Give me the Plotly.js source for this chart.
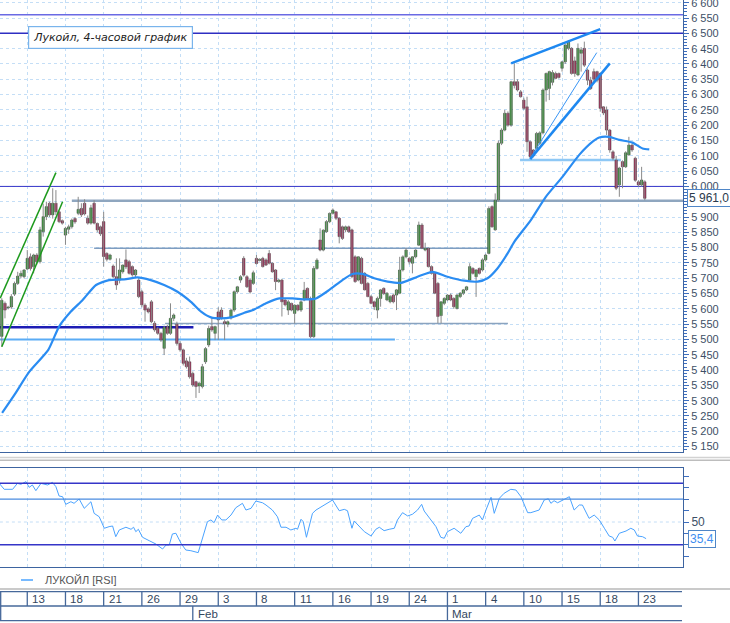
<!DOCTYPE html>
<html><head><meta charset="utf-8">
<script src="https://cdn.plot.ly/plotly-3.0.1.min.js"></script>
<style>html,body{margin:0;padding:0;background:#fff}#chart{width:730px;height:623px}</style>
</head><body><div id="chart"></div>
<script>
// ---- DATA (4-hour candles, bar index 0..202) ----
const open = [5510,5618,5603,5606,5648,5683,5707,5705,5730,5770,5738,5776,5754,5852,5901,5945,5907,5945,5917,5888,
5841,5860,5868,5895,5912,5928,5945,5896,5880,5945,5879,5868,5885,5781,5762,5740,5705,5694,5721,5760,
5754,5738,5711,5694,5656,5612,5600,5623,5553,5536,5520,5471,5542,5520,5569,5550,5487,5466,5430,5427,
5389,5362,5348,5346,5427,5482,5542,5520,5590,5596,5558,5550,5570,5596,5656,5694,5765,5705,5694,5683,
5765,5758,5765,5760,5781,5749,5727,5689,5694,5629,5596,5618,5585,5612,5596,5629,5667,5634,5509,5732,
5825,5792,5852,5885,5912,5917,5896,5868,5858,5868,5858,5770,5694,5765,5716,5683,5640,5623,5596,5634,
5667,5629,5623,5645,5645,5651,5727,5770,5765,5749,5770,5808,5874,5792,5798,5738,5716,5683,5578,5618,
5629,5645,5634,5601,5640,5651,5662,5694,5732,5705,5732,5727,5760,5781,5934,5858,5956,6141,6184,6239,
6200,6342,6342,6309,6282,6260,6146,6119,6124,6141,6175,6315,6320,6340,6369,6369,6386,6407,6451,6451,
6410,6364,6435,6451,6380,6347,6375,6375,6369,6260,6250,6184,6113,6086,6005,6081,6064,6103,6135,6092,
6015,6005,6015];
const high = [5635,5624,5610,5648,5689,5721,5725,5730,5792,5781,5780,5782,5868,5944,5950,5950,5994,5988,5920,5892,
5868,5875,5895,5900,5966,5945,5958,5905,5940,5955,5882,5872,5917,5785,5780,5745,5765,5765,5745,5794,
5760,5742,5730,5700,5662,5618,5605,5629,5560,5540,5525,5545,5548,5618,5585,5558,5495,5470,5440,5444,
5395,5365,5362,5420,5475,5545,5570,5545,5605,5605,5565,5562,5600,5660,5675,5710,5772,5710,5700,5725,
5776,5765,5770,5765,5792,5752,5730,5698,5698,5632,5629,5620,5615,5615,5628,5688,5670,5640,5740,5765,
5863,5860,5890,5915,5928,5920,5900,5872,5872,5872,5862,5775,5772,5770,5720,5688,5645,5627,5640,5665,
5670,5655,5645,5650,5665,5770,5775,5798,5770,5772,5795,5885,5880,5816,5800,5742,5720,5688,5625,5638,
5648,5650,5638,5648,5655,5665,5675,5749,5736,5730,5735,5765,5780,5935,5938,5977,6150,6190,6250,6245,
6345,6402,6350,6315,6290,6293,6150,6122,6178,6180,6320,6372,6378,6380,6375,6372,6410,6465,6478,6455,
6424,6467,6455,6473,6385,6358,6385,6378,6372,6262,6261,6188,6118,6100,6064,6085,6115,6162,6140,6097,
6020,6064,6020];
const low = [5476,5569,5598,5600,5642,5678,5700,5700,5727,5725,5716,5745,5748,5836,5890,5900,5895,5906,5880,5875,
5809,5845,5862,5878,5906,5900,5905,5875,5875,5876,5850,5838,5738,5755,5758,5700,5662,5683,5715,5730,
5712,5705,5700,5635,5605,5558,5585,5553,5525,5515,5492,5449,5515,5515,5560,5480,5460,5415,5405,5372,
5345,5309,5325,5340,5420,5475,5525,5498,5498,5565,5498,5540,5565,5590,5650,5685,5705,5668,5650,5678,
5745,5755,5735,5740,5745,5718,5661,5685,5575,5608,5580,5592,5552,5592,5590,5625,5630,5504,5505,5728,
5788,5788,5848,5880,5908,5890,5814,5825,5850,5848,5700,5685,5690,5680,5660,5638,5615,5596,5569,5607,
5645,5625,5618,5618,5596,5648,5722,5765,5745,5716,5765,5805,5795,5788,5735,5712,5648,5553,5553,5612,
5625,5625,5600,5598,5635,5645,5658,5690,5712,5639,5712,5722,5755,5778,5865,5855,5950,6135,6180,6195,
6195,6320,6310,6290,6250,6113,6092,6095,6120,6135,6170,6277,6282,6330,6350,6352,6375,6400,6445,6365,
6358,6360,6375,6390,6331,6315,6337,6340,6244,6233,6168,6110,6085,5988,5966,5994,6060,6100,6113,6015,
5999,5999,5955];
const close = [5628,5596,5606,5640,5683,5707,5716,5727,5765,5732,5776,5754,5858,5901,5934,5907,5945,5917,5885,5880,
5863,5868,5890,5884,5925,5907,5910,5880,5930,5880,5858,5845,5771,5762,5776,5705,5678,5727,5743,5737,
5716,5711,5727,5640,5613,5596,5590,5558,5531,5520,5498,5540,5520,5569,5580,5487,5466,5422,5411,5378,
5351,5346,5357,5411,5470,5536,5531,5542,5564,5570,5552,5558,5596,5656,5672,5705,5710,5672,5655,5718,
5748,5762,5738,5743,5749,5721,5689,5694,5623,5613,5623,5596,5612,5596,5623,5661,5634,5509,5732,5759,
5792,5857,5885,5912,5923,5896,5836,5830,5868,5852,5705,5689,5770,5683,5662,5640,5618,5607,5634,5662,
5650,5651,5640,5623,5662,5727,5770,5792,5754,5770,5792,5874,5798,5798,5738,5716,5651,5575,5623,5634,
5645,5629,5607,5645,5651,5662,5672,5738,5716,5727,5716,5760,5776,5928,5868,5955,6141,6184,6239,6200,
6342,6330,6315,6293,6255,6146,6097,6100,6173,6175,6315,6369,6375,6372,6353,6356,6407,6462,6473,6369,
6369,6451,6446,6396,6347,6320,6350,6347,6255,6240,6184,6119,6092,5994,6060,6064,6110,6135,6119,6020,
6005,6021,5961];

// moving average
const maBars = [0.1,3.9,8.6,14.6,18,21.7,25.4,29.6,33.7,38.5,42.6,46.8,51,55.2,59.4,62.6,65.7,68.8,72,76.2,79.3,83,87.2,91.3,95.5,98.7,102.9,107,110.2,113.3,117,121.2,125.4,130.6,135.3,140,145.3,149.5,152.6,155.7,158.9,161,166.2,170.9,176.2,181.4,185.6,187.7,190.8,194,198.1,201.3,203.4];
const maValues = [5260,5318,5394,5466,5542,5591,5629,5678,5694,5696,5703,5694,5678,5656,5623,5591,5572,5569,5572,5587,5598,5618,5634,5634,5631,5634,5662,5694,5714,5714,5700,5689,5685,5705,5721,5705,5692,5689,5700,5732,5781,5819,5890,5966,6032,6103,6146,6160,6162,6152,6143,6124,6121];

// RSI
const rsiBars = [-0.8,0.75,3.4,4.9,6,7.6,8.6,9.6,10.7,12.3,14.4,15.9,17,18,19.1,20.1,21.7,22.7,24.3,25.9,28,29,30.6,32.2,33.7,34.8,35.8,36.9,39,40.6,41.4,42.1,42.9,44.2,46.3,48.4,50.5,51.6,52.6,53.6,54.7,56.3,57.8,59.4,61.7,63.1,64.6,65.7,66.7,67.8,69.1,70.4,72,73.5,75.6,76.7,78.3,79.8,81.9,83,85,86.6,87.7,89.3,90.8,92.4,92.9,94,94.7,95.7,97.6,98.7,101.3,103.9,106,107.6,108.6,110,110.7,112.3,113.9,116,117.5,118.6,120.1,121.7,123.3,124.3,125.9,127.5,129,130.6,131.9,132.7,134.3,136.4,137.9,139,140,142.1,144.2,145.8,146.8,147.9,150,151,152.1,153.7,154.7,156.3,157.8,159.9,161.5,163.1,165.2,166.2,168.8,170.4,171.7,172.5,173.5,174.6,176.7,178.3,179.8,181.4,182.4,184.5,186.1,187.7,189.3,190.8,191.9,192.6,194,196.1,197.6,198.7,199.7,201.3,202.4];
const rsiValues = [83.9,78.7,78.7,83.9,83.1,85.4,80.4,82.5,77.5,83.9,82.5,84.8,81.0,72.8,72.2,65.5,67.8,66.4,70.2,62.0,67.8,57.6,54.6,44.5,45.9,46.5,37.1,43.0,45.4,43.6,45.4,41.5,43.6,36.6,33.6,30.7,26.3,29.8,29.8,39.5,40.1,31.3,25.4,24.8,23.1,37.1,50.3,51.8,49.4,56.1,51.8,51.8,56.1,62.5,66.4,60.5,62.0,68.4,66.9,64.9,60.5,54.6,45.4,45.4,43.0,44.5,43.6,52.4,50.3,36.6,57.6,60.5,64.9,69.3,59.9,61.1,59.9,44.5,50.9,45.9,41.5,37.7,43.6,45.4,42.4,43.6,44.5,51.8,58.2,55.3,56.8,60.5,65.5,59.6,53.2,45.9,36.6,35.7,41.5,44.5,40.1,45.9,46.5,53.2,56.1,51.8,60.5,71.7,57.6,70.8,75.2,78.7,78.1,72.2,58.2,58.2,60.5,69.3,70.4,66.4,68.7,66.9,69.9,72.2,60.5,64.9,64.9,53.2,56.1,51.8,44.5,37.7,36.6,33.3,40.1,42.1,44.5,43.0,37.7,37.1,35.4];
const rsiLevels = [84, 70, 30];
const rsiTickVals = [20,30,40,50,60,70,80,90];
const rsiTickText = ['','','','50','','','',''];

// price axis ticks (the 5 950 label is covered by the last-price box in the reference)
const priceTickVals = [5150,5200,5250,5300,5350,5400,5450,5500,5550,5600,5650,5700,5750,5800,5850,5900,5950,6000,6050,6100,6150,6200,6250,6300,6350,6400,6450,6500,6550,6600];
const priceTickText = ['5 150','5 200','5 250','5 300','5 350','5 400','5 450','5 500','5 550','5 600','5 650','5 700','5 750','5 800','5 850','5 900','','6 000','6 050','6 100','6 150','6 200','6 250','6 300','6 350','6 400','6 450','6 500','6 550','6 600'];

// date axis
const tickBars = [8,20,32,44,56,68,80,92,104,116,128,140,152,164,176,188,200];
const dayLabels = ['13','18','21','26','29','3','8','11','16','19','24','1','4','10','15','18','23'];
const monthBars = [60,140];
const monthLabels = ['Feb','Mar'];

// horizontal levels on price chart
const levelValues = [6561, 6500, 6000, 5953, 5798, 5552, 5540, 5500, 6086];
const levelFrom   = [-0.6, -0.6, -0.6, 22, 29, 51.3, -0.6, -0.6, 162.8];
const levelTo     = [214, 214, 214, 214, 153.4, 159, 60.2, 123.5, 194.5];

// trend lines (endpoints)
const greenUpperX = [-0.5, 17.0], greenUpperY = [5635, 6045];
const greenLowerX = [0, 19.1],   greenLowerY = [5476, 5950];
const blueTopX = [160, 188],     blueTopY = [6402, 6514];
const blueThinX = [166, 186.9],  blueThinY = [6092, 6437];
const blueLowX = [166, 191],     blueLowY = [6089, 6402];

const titleText = 'Лукойл, 4-часовой график';
const legendText = 'ЛУКОЙЛ [RSI]';

// ---- BUILD ----
const H = 623, PW = 683;
const py = p => (H - p) / H;
const bars = close.map((_, i) => i);
const wx = [], wy = [];
bars.forEach(i => { wx.push(i, i, null); wy.push(low[i], high[i], null); });
const bodyH = bars.map(i => Math.max(Math.abs(close[i] - open[i]), 3));
const bodyB = bars.map(i => Math.min(open[i], close[i]));
const bodyC = bars.map(i => close[i] >= open[i] ? '#1fa31f' : '#b3134d');

const levelStyles = [
  {color:'#6a6ae4', width:1.5}, {color:'#2e2ec2', width:1.5}, {color:'#3434c8', width:1},
  {color:'#8fa6bf', width:2.5}, {color:'#7f9dc0', width:1.5}, {color:'#8aa3bf', width:1.5},
  {color:'#1d1db5', width:2.5}, {color:'#5aacf5', width:2}, {color:'#8ec8f5', width:2.5}
];
const shapes = [];
levelValues.forEach((v, k) => shapes.push({type:'line', xref:'x', yref:'y', x0:levelFrom[k], x1:levelTo[k], y0:v, y1:v, line:levelStyles[k], layer:'between'}));
const rsiStyles = [{color:'#3535c8', width:1.5}, {color:'#4a8be0', width:1.2}, {color:'#3535c8', width:1.5}];
rsiLevels.forEach((v, k) => shapes.push({type:'line', xref:'x2', yref:'y2', x0:-0.6, x1:214, y0:v, y1:v, line:rsiStyles[k]}));
shapes.push({type:'line', xref:'x2', yref:'y2', x0:-0.6, x1:214, y0:50, y1:50, line:{color:'#c4def6', width:1, dash:'dot'}, layer:'below'});
// separators
shapes.push({type:'line', xref:'paper', yref:'paper', x0:0, x1:730/PW, y0:py(457.5), y1:py(457.5), line:{color:'#d2d2d2', width:1.5}});
shapes.push({type:'line', xref:'paper', yref:'paper', x0:0, x1:730/PW, y0:py(460.3), y1:py(460.3), line:{color:'#bdbdbd', width:1.5}});
shapes.push({type:'line', xref:'paper', yref:'paper', x0:0, x1:730/PW, y0:py(589), y1:py(589), line:{color:'#cacaca', width:2}});
// date panel
const dpc = {color:'#46689a', width:1.3};
[591.7, 606, 620.7].forEach(p => shapes.push({type:'line', xref:'paper', yref:'paper', x0:0, x1:682/PW, y0:py(p), y1:py(p), line:dpc}));
shapes.push({type:'line', xref:'paper', yref:'paper', x0:0.001, x1:0.001, y0:py(591.7), y1:py(620.7), line:dpc});
tickBars.forEach(b => shapes.push({type:'line', xref:'x', yref:'paper', x0:b, x1:b, y0:py(591.7), y1:py(606), line:dpc}));
monthBars.forEach(b => shapes.push({type:'line', xref:'x', yref:'paper', x0:b, x1:b, y0:py(606), y1:py(620.7), line:dpc}));
// legend sample
shapes.push({type:'line', xref:'paper', yref:'paper', x0:21/PW, x1:33/PW, y0:py(580), y1:py(580), line:{color:'#4aa3ff', width:1.5}});

const fmtNum = (v, d) => { const s = v.toFixed(d).split('.'); const ip = s[0].replace(/\B(?=(\d{3})+(?!\d))/g, ' '); return d ? ip + ',' + s[1] : ip; };
const lastClose = close[close.length - 1];
const lastRsi = rsiValues[rsiValues.length - 1];

const annotations = [];
annotations.push({xref:'paper', yref:'paper', x:28/PW, y:py(38), xanchor:'left', yanchor:'middle', text:'<i>' + titleText + '</i>', showarrow:false,
  font:{family:'DejaVu Sans', size:11, color:'#222'}, bgcolor:'#ffffff', bordercolor:'#79b4ec', borderwidth:1.2, borderpad:4});
annotations.push({xref:'paper', yref:'y', x:686.5/PW, y:lastClose, xanchor:'left', yanchor:'middle', text:fmtNum(lastClose,1), showarrow:false,
  font:{family:'Liberation Sans', size:12, color:'#2b3a4c'}, bgcolor:'#ffffff', bordercolor:'#4f86c7', borderwidth:1, borderpad:1});
annotations.push({xref:'paper', yref:'y2', x:687.5/PW, y:lastRsi, xanchor:'left', yanchor:'middle', text:fmtNum(lastRsi,1), showarrow:false,
  font:{family:'Liberation Sans', size:12, color:'#3d8ef0'}, bgcolor:'#ffffff', bordercolor:'#4f86c7', borderwidth:1, borderpad:1});
annotations.push({xref:'paper', yref:'paper', x:43/PW, y:py(580), xanchor:'left', yanchor:'middle', text:legendText, showarrow:false,
  font:{family:'Liberation Sans', size:11, color:'#555'}});
tickBars.forEach((b, k) => annotations.push({xref:'x', yref:'paper', x:b, y:py(599), xanchor:'left', yanchor:'middle', xshift:3, text:dayLabels[k], showarrow:false,
  font:{family:'Liberation Sans', size:11.5, color:'#34475e'}}));
monthBars.forEach((b, k) => annotations.push({xref:'x', yref:'paper', x:b, y:py(613.5), xanchor:'left', yanchor:'middle', xshift:3, text:monthLabels[k], showarrow:false,
  font:{family:'Liberation Sans', size:11.5, color:'#34475e'}}));

const traces = [
  {type:'scatter', mode:'lines', x:wx, y:wy, line:{color:'#8a8a8a', width:1}, xaxis:'x', yaxis:'y', hoverinfo:'skip'},
  {type:'bar', x:bars, y:bodyH, base:bodyB, width:0.76, marker:{color:bodyC, line:{color:'#333333', width:0.5}}, xaxis:'x', yaxis:'y', hoverinfo:'skip'},
  {type:'scatter', mode:'lines', x:maBars, y:maValues, line:{color:'#2a8cf2', width:2.2, shape:'spline', smoothing:0.6}, xaxis:'x', yaxis:'y'},
  {type:'scatter', mode:'lines', x:greenUpperX, y:greenUpperY, line:{color:'#1d9a1d', width:1.5}, xaxis:'x', yaxis:'y'},
  {type:'scatter', mode:'lines', x:greenLowerX, y:greenLowerY, line:{color:'#1d9a1d', width:1.5}, xaxis:'x', yaxis:'y'},
  {type:'scatter', mode:'lines', x:blueTopX, y:blueTopY, line:{color:'#1e88f0', width:2.5}, xaxis:'x', yaxis:'y'},
  {type:'scatter', mode:'lines', x:blueThinX, y:blueThinY, line:{color:'#3a96f5', width:1}, xaxis:'x', yaxis:'y'},
  {type:'scatter', mode:'lines', x:blueLowX, y:blueLowY, line:{color:'#1e88f0', width:2.5}, xaxis:'x', yaxis:'y'},
  {type:'scatter', mode:'lines', x:rsiBars, y:rsiValues, line:{color:'#4aa3ff', width:1}, xaxis:'x2', yaxis:'y2'}
];

const gridC = '#c4def6', axC = '#3d64a0', tkC = '#3d6fc0';
const layout = {
  width:730, height:623, margin:{l:0, r:47, t:0, b:0}, paper_bgcolor:'#ffffff', plot_bgcolor:'#ffffff',
  showlegend:false, barmode:'overlay', hovermode:false,
  xaxis:{domain:[0,1], range:[-0.566, 214.0], anchor:'y', tickvals:tickBars, showticklabels:false, ticks:'',
    showgrid:true, gridcolor:gridC, griddash:'dot', gridwidth:1, showline:true, mirror:true, linecolor:axC, linewidth:1, zeroline:false},
  yaxis:{domain:[1-452/H, 1], range:[5132.3, 6609], side:'right', anchor:'x', tickvals:priceTickVals, ticktext:priceTickText,
    ticklabeloverflow:'allow', ticks:'outside', ticklen:5, tickcolor:tkC, tickfont:{family:'Liberation Sans', size:11, color:'#3d4f66'},
    showgrid:true, gridcolor:gridC, griddash:'dot', showline:true, mirror:true, linecolor:axC, zeroline:false,
    minor:{dtick:10, ticks:'outside', ticklen:3, tickcolor:tkC, showgrid:false}},
  xaxis2:{domain:[0,1], range:[-0.566, 214.0], anchor:'y2', matches:'x', tickvals:tickBars, showticklabels:false, ticks:'',
    showgrid:true, gridcolor:gridC, griddash:'dot', showline:true, mirror:true, linecolor:axC, zeroline:false},
  yaxis2:{domain:[(H-567)/H, (H-468)/H], range:[10.5, 97.4], side:'right', anchor:'x2', tickvals:rsiTickVals,
    ticktext:rsiTickText, ticks:'outside', ticklen:5, tickcolor:tkC, tickfont:{family:'Liberation Sans', size:12, color:'#3d4f66'},
    showgrid:false, showline:true, mirror:true, linecolor:axC, zeroline:false},
  shapes:shapes, annotations:annotations
};
Plotly.newPlot('chart', traces, layout, {staticPlot:true, displayModeBar:false});
</script></body></html>
